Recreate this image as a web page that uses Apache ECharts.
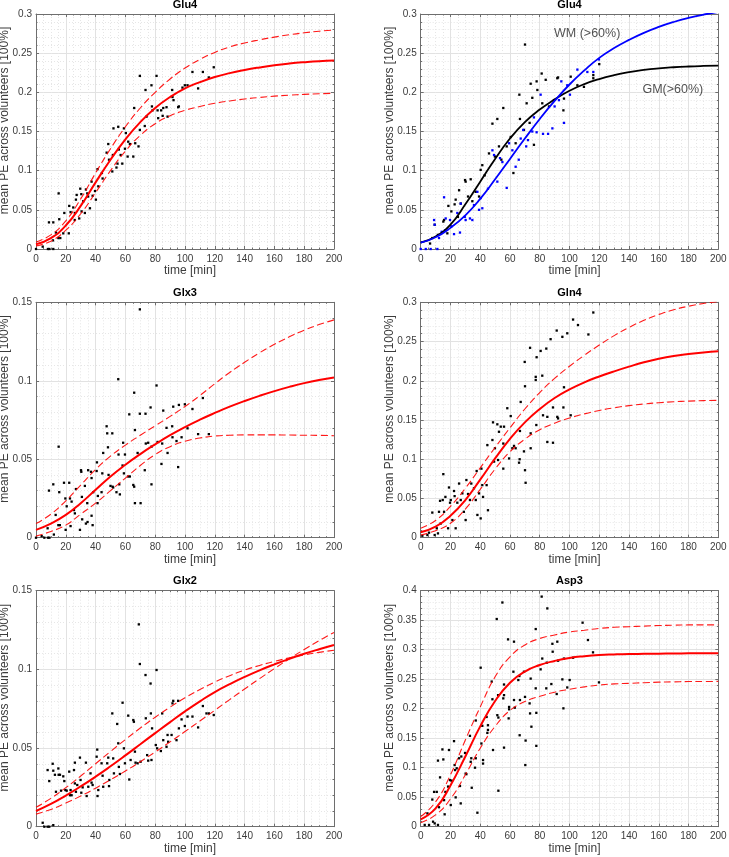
<!DOCTYPE html>
<html><head><meta charset="utf-8">
<script src="https://cdn.jsdelivr.net/npm/echarts@6/dist/echarts.min.js"></script>
<style>html,body{margin:0;padding:0;background:#fff}#c{width:729px;height:857px}</style>
</head><body><div id="c"></div>
<script>
// ---------------- DATA ----------------
const fitTime = [0,10,20,30,40,50,60,70,80,90,100,110,120,130,140,150,160,170,180,190,200];

// Panel 1: Glu4
const glu4Fit   = [0.006,0.014,0.030,0.055,0.085,0.114,0.140,0.162,0.180,0.194,0.205,0.213,0.2195,0.2245,0.2285,0.2318,0.2346,0.2368,0.2385,0.2398,0.2405];
const glu4Upper = [0.009,0.018,0.036,0.064,0.097,0.128,0.156,0.180,0.200,0.217,0.231,0.242,0.251,0.258,0.263,0.267,0.2705,0.2735,0.276,0.278,0.2795];
const glu4Lower = [0.004,0.010,0.024,0.045,0.072,0.100,0.125,0.145,0.160,0.170,0.177,0.182,0.186,0.189,0.1915,0.1935,0.1951,0.1964,0.1974,0.1982,0.1988];
const glu4Pts = [[0,0],[4.5,0.003],[8,0],[9,0],[11.6,0],[8.7,0.034],[11.6,0.034],[11.4,0.011],[13.4,0.021],[15,0.014],[15.2,0.071],[15.6,0.038],[16.3,0.014],[18.3,0.02],[19,0.046],[22,0.02],[22.3,0.055],[23.2,0.047],[25,0.053],[26,0.037],[26.1,0.046],[26.8,0.063],[27.3,0.069],[29,0.039],[29.7,0.077],[30.4,0.07],[30.6,0.048],[31.7,0.061],[32.8,0.046],[33.5,0.076],[34.4,0.071],[35,0.067],[36.2,0.052],[37.3,0.086],[38,0.068],[39.6,0.074],[40.2,0.063],[41.3,0.102],[41.8,0.08],[44.2,0.097],[44.7,0.09],[47.4,0.123],[48.5,0.134],[49,0.114],[51.2,0.099],[51.6,0.12],[52,0.154],[54,0.104],[54.7,0.109],[55.2,0.156],[55.6,0.127],[56.8,0.12],[57.9,0.109],[59,0.154],[59.7,0.128],[60.3,0.148],[61.5,0.118],[61.9,0.137],[63,0.134],[65.3,0.118],[65.9,0.18],[66.6,0.135],[68.8,0.131],[69.7,0.221],[69.7,0.152],[73,0.157],[73.5,0.203],[74.2,0.169],[77.5,0.209],[77.8,0.182],[78.2,0.177],[80.9,0.221],[81.6,0.177],[82,0.167],[84,0.177],[85,0.17],[85.4,0.18],[87.6,0.181],[88.3,0.169],[91.4,0.203],[91.6,0.194],[92.3,0.19],[95.4,0.181],[95.9,0.182],[98.3,0.206],[99.9,0.209],[101.7,0.209],[105,0.226],[108.8,0.205],[112,0.226],[116,0.219],[119.3,0.232]];

// Panel 2: Glu4 GM / WM
const gmFit = [0.008,0.016,0.031,0.057,0.086,0.115,0.141,0.162,0.178,0.191,0.202,0.2105,0.217,0.222,0.2258,0.2286,0.2306,0.232,0.233,0.2337,0.2342];
const wmFit = [0.008,0.015,0.027,0.043,0.064,0.089,0.115,0.141,0.166,0.189,0.210,0.228,0.244,0.2565,0.267,0.276,0.2835,0.2898,0.295,0.2992,0.3026];
const gmPts = [[6.3,0.007],[7.8,0.014],[9.4,0.031],[11.6,0.018],[15.2,0.035],[15.7,0.037],[17.9,0.02],[18.6,0.055],[20.6,0.048],[22.8,0.057],[23.5,0.063],[25,0.041],[25.8,0.075],[26.9,0.058],[29.8,0.088],[30.2,0.086],[31.8,0.067],[33.6,0.089],[34.7,0.061],[37,0.073],[39.2,0.067],[40.3,0.101],[41.4,0.107],[43,0.094],[45.9,0.122],[48.2,0.16],[49.9,0.118],[51.5,0.166],[52.6,0.131],[54.2,0.114],[55.5,0.18],[57.8,0.131],[60.5,0.143],[62.3,0.097],[63.8,0.135],[66.3,0.197],[66.7,0.166],[69.4,0.152],[70.1,0.261],[71.2,0.186],[73.2,0.161],[73.9,0.211],[75,0.193],[76.1,0.133],[77.9,0.214],[78.4,0.203],[81.3,0.224],[81.7,0.186],[84,0.216],[86.2,0.182],[91.8,0.218],[92.3,0.219],[95.9,0.177],[96.3,0.192],[100.8,0.22],[105.3,0.209],[109.7,0.207],[116,0.222],[116,0.218],[120,0.236]];
const wmPts = [[0,0],[3.4,0],[6.7,0],[9,0.037],[9.4,0.031],[11.2,0],[12.3,0.014],[14.1,0.022],[15.7,0.066],[16.3,0.024],[16.8,0.039],[19.7,0.037],[20.6,0.029],[22.4,0.019],[24.6,0.046],[26.4,0.021],[26.9,0.058],[29.6,0.041],[30.2,0.037],[33.1,0.039],[34.7,0.037],[35.8,0.056],[38.1,0.073],[39.2,0.05],[40.3,0.065],[41.4,0.052],[45.2,0.077],[48.2,0.126],[49.3,0.12],[51.5,0.086],[53.3,0.116],[54.9,0.111],[57.8,0.078],[59.4,0.135],[61.6,0.126],[63.8,0.105],[65.9,0.114],[67.2,0.141],[68.9,0.152],[70.9,0.131],[72.1,0.139],[75,0.15],[76.1,0.168],[77.9,0.149],[80.6,0.197],[82.2,0.147],[85.6,0.147],[88.5,0.154],[90,0.182],[92.9,0.19],[94.5,0.214],[96.3,0.161],[98.5,0.209],[100.3,0.197],[105.3,0.229],[112,0.226],[116,0.226],[119.8,0.242]];
const tissueLabels = [['WM (>60%)',89.6,0.275],['GM(>60%)',149,0.203]];

// Panel 3: Glx3
const glx3Fit   = [0.005,0.009,0.0145,0.022,0.0305,0.039,0.0465,0.0533,0.0595,0.0653,0.0705,0.0752,0.0795,0.0835,0.0871,0.0904,0.0934,0.0961,0.0985,0.1005,0.1021];
const glx3Upper = [0.009,0.015,0.0235,0.0335,0.0435,0.052,0.059,0.0653,0.0713,0.0773,0.0836,0.0906,0.0981,0.1053,0.1118,0.1178,0.1232,0.128,0.1322,0.1358,0.1388];
const glx3Lower = [0.001,0.004,0.008,0.015,0.022,0.030,0.038,0.046,0.053,0.058,0.0615,0.0635,0.0648,0.0653,0.0655,0.0655,0.0655,0.0654,0.0653,0.0652,0.065];
const glx3Pts = [[0,0],[3.8,0.001],[5.6,0],[8,0],[9,0],[7.8,0.006],[8.7,0.03],[11.6,0.034],[12,0.002],[13.2,0.0145],[15,0.008],[15.2,0.058],[15.6,0.029],[16,0.008],[18.8,0.035],[19.7,0.025],[19.9,0.005],[20.6,0.02],[22.3,0.035],[22.8,0.025],[23.2,0.0074],[23.9,0.023],[25.5,0.0176],[26.1,0.0155],[26.8,0.031],[29.5,0.005],[30.2,0.043],[30.4,0.042],[30.8,0.026],[31,0.0117],[32.8,0.033],[33.5,0.009],[34.4,0.022],[34.6,0.01],[35,0.043],[36.9,0.042],[37.3,0.038],[37.3,0.014],[38,0.008],[38.4,0.029],[40.7,0.0425],[40.9,0.048],[41.3,0.022],[41.5,0.0266],[44,0.029],[44.5,0.041],[45.1,0.054],[47.4,0.071],[47.8,0.0665],[48.3,0.0576],[48.7,0.04],[50,0.033],[51.2,0.0665],[51.4,0.0325],[51.8,0.032],[54,0.029],[55.2,0.101],[55.4,0.053],[55.9,0.034],[56.3,0.0276],[58.1,0.046],[58.5,0.0605],[59,0.041],[59.7,0.053],[61.9,0.039],[62.6,0.0786],[63,0.039],[65.3,0.0336],[65.9,0.0325],[65.9,0.0924],[66.4,0.0686],[66.4,0.022],[68.2,0.054],[69.7,0.079],[69.7,0.1455],[70.2,0.022],[73,0.043],[73.5,0.079],[73.7,0.06],[75.3,0.0605],[76.9,0.083],[77.5,0.058],[77.5,0.034],[80.9,0.097],[81.6,0.061],[84.2,0.047],[84.7,0.06],[85.4,0.081],[87.6,0.07],[88.3,0.054],[91.4,0.071],[91.6,0.064],[92.1,0.0835],[94.3,0.0616],[95.4,0.045],[95.9,0.0846],[97.7,0.064],[99.9,0.085],[101.7,0.0697],[105,0.082],[108.8,0.066],[112,0.089],[116,0.066]];

// Panel 4: Gln4
const gln4Fit   = [0.007,0.014,0.028,0.048,0.074,0.101,0.126,0.147,0.164,0.178,0.189,0.198,0.2055,0.212,0.218,0.2235,0.228,0.2315,0.234,0.236,0.2375];
const gln4Upper = [0.012,0.022,0.040,0.063,0.089,0.115,0.140,0.164,0.185,0.203,0.2185,0.2325,0.2455,0.2575,0.268,0.277,0.2845,0.2905,0.295,0.2985,0.301];
const gln4Lower = [0.0034,0.009,0.0185,0.0365,0.0615,0.0875,0.1095,0.1255,0.1375,0.146,0.1525,0.1578,0.1621,0.1656,0.1683,0.1704,0.172,0.1732,0.1741,0.1747,0.1751];
const gln4Pts = [[1.1,0.0025],[4.5,0.0034],[5.6,0.0064],[7.8,0.032],[9.4,0.0034],[10.8,0.012],[11.6,0.0055],[12.3,0.033],[13,0.047],[13.4,0.018],[14.8,0.048],[15.2,0.081],[15.7,0.033],[16.6,0.052],[18.4,0.012],[19,0.064],[19.7,0.0446],[20.2,0.048],[21.3,0.0225],[22.4,0.0595],[22.8,0.053],[23.5,0.012],[24.6,0.0446],[25.8,0.069],[26.9,0.048],[28,0.0565],[29,0.033],[30.2,0.0225],[30.7,0.0735],[31.8,0.0557],[33.1,0.048],[34,0.069],[35.8,0.063],[37,0.048],[37.6,0.085],[38.1,0.029],[39.2,0.0565],[40.3,0.0246],[40.8,0.088],[41.4,0.067],[41.9,0.052],[44.3,0.067],[44.8,0.118],[45.2,0.035],[48.2,0.1245],[48.6,0.147],[49.3,0.097],[49.9,0.114],[51.5,0.1445],[52,0.099],[52.6,0.135],[53.8,0.1415],[55.5,0.12],[55.5,0.088],[56,0.1415],[58.2,0.165],[59.4,0.101],[60.5,0.155],[61.6,0.114],[62.7,0.117],[63.8,0.114],[66.1,0.0956],[66.5,0.1],[66.7,0.136],[67.2,0.173],[69.4,0.11],[69.9,0.224],[70.1,0.193],[70.5,0.07],[70.1,0.086],[73.9,0.133],[73.9,0.114],[73.5,0.242],[77.3,0.205],[77.3,0.201],[77.7,0.1436],[77.9,0.23],[80.6,0.238],[81.7,0.2065],[82.2,0.156],[84.4,0.241],[85.1,0.154],[85.1,0.122],[87.3,0.253],[88.9,0.166],[88.9,0.121],[91.4,0.264],[91.8,0.154],[92.3,0.152],[95.2,0.256],[95.9,0.166],[96.3,0.1917],[98.5,0.2605],[100.8,0.156],[102.4,0.278],[105.7,0.271],[112.7,0.259],[116,0.287]];

// Panel 5: Glx2
const glx2Fit    = [0.010,0.0145,0.0198,0.0256,0.0318,0.0384,0.0453,0.0524,0.0595,0.0665,0.0733,0.0797,0.0856,0.0906,0.0952,0.0994,0.1032,0.1067,0.1099,0.1128,0.1155];
const glx2BoundA = [0.0123,0.018,0.0248,0.0322,0.040,0.0478,0.0554,0.0627,0.0696,0.076,0.0819,0.0872,0.0919,0.096,0.0995,0.1025,0.1051,0.1073,0.1092,0.1108,0.1122];
const glx2BoundB = [0.008,0.011,0.015,0.0195,0.0245,0.0298,0.0354,0.0413,0.0475,0.0539,0.0605,0.0672,0.074,0.0808,0.0875,0.0941,0.1005,0.1067,0.1126,0.1182,0.1235];
const glx2Pts = [[4.5,0.0025],[5.6,0],[7.8,0],[8.9,0],[11.6,0.001],[7.8,0.036],[8.9,0.029],[11.2,0.04],[11.6,0.0356],[12.7,0.033],[13.4,0.0222],[15,0.037],[15.2,0.033],[16.1,0.033],[16.8,0.0229],[18.3,0.032],[19,0.029],[19.7,0.0233],[20.6,0.0229],[22.3,0.035],[22.8,0.02],[23.2,0.0233],[23.9,0.02],[25.5,0.036],[26.1,0.0407],[26.1,0.0275],[26.8,0.0222],[27.7,0.0265],[29.5,0.0439],[29.9,0.0297],[30.4,0.0216],[31.3,0.025],[33.5,0.0407],[34,0.0195],[35.1,0.0254],[36.6,0.0339],[37.3,0.028],[38,0.0265],[40.7,0.0445],[41.1,0.049],[41.3,0.0195],[41.8,0.0233],[44,0.0403],[44.7,0.0324],[45.1,0.0254],[47.8,0.0403],[48.5,0.0439],[49,0.0258],[49.2,0.0297],[51.2,0.072],[51.8,0.0434],[52.3,0.0339],[54.5,0.0653],[55.2,0.053],[55.6,0.038],[56.3,0.0335],[58.1,0.0788],[59,0.0498],[59.7,0.0403],[61.9,0.0706],[62.6,0.03],[63.5,0.0424],[65.3,0.0678],[65.7,0.0667],[66.4,0.0477],[66.8,0.0407],[68.2,0.0403],[69,0.1286],[69.7,0.1034],[70.2,0.0413],[73.5,0.0964],[73.7,0.0689],[74.6,0.0455],[75.3,0.042],[76.9,0.091],[77.1,0.072],[77.5,0.0424],[77.9,0.0625],[80.4,0.0519],[80.9,0.0996],[81.3,0.0498],[83.8,0.0481],[84.7,0.072],[85.4,0.055],[87.6,0.0508],[88.3,0.0583],[88.7,0.054],[91,0.0583],[91.6,0.0784],[92.1,0.08],[94.3,0.055],[95.4,0.08],[95.9,0.0625],[97.7,0.0682],[99.9,0.064],[101.7,0.07],[105,0.07],[108.8,0.0631],[112,0.0767],[114.4,0.072],[116,0.072],[119.3,0.071]];

// Panel 6: Asp3
const asp3Fit   = [0.0124,0.031,0.070,0.119,0.170,0.213,0.244,0.263,0.274,0.281,0.286,0.289,0.291,0.292,0.2927,0.293,0.2933,0.2936,0.2938,0.294,0.294];
const asp3Upper = [0.017,0.042,0.088,0.147,0.203,0.254,0.288,0.308,0.319,0.325,0.330,0.333,0.336,0.338,0.339,0.340,0.341,0.3415,0.342,0.342,0.342];
const asp3Lower = [0.0068,0.020,0.047,0.088,0.133,0.170,0.197,0.212,0.221,0.228,0.233,0.237,0.240,0.242,0.243,0.244,0.245,0.2455,0.246,0.246,0.2463];
const asp3Pts = [[2.7,0.003],[4.5,0.0226],[5.6,0.003],[7.8,0.046],[8.3,0.0085],[9,0.059],[9.4,0.0056],[10.8,0.059],[11.6,0.003],[11.6,0.112],[12.3,0.033],[13,0.0836],[14.6,0.131],[15.2,0.114],[15.7,0.045],[16.1,0.021],[16.6,0.059],[18.4,0.068],[19,0.13],[19.7,0.079],[20.2,0.0367],[20.8,0.078],[22.4,0.145],[22.8,0.1045],[23.1,0.096],[23.5,0.0497],[24.2,0.099],[25.8,0.116],[26.4,0.069],[26.9,0.0395],[27.3,0.119],[29.8,0.125],[30.2,0.09],[30.7,0.089],[33.1,0.154],[33.6,0.11],[34,0.116],[34.3,0.066],[36.5,0.1],[37,0.116],[38.1,0.0237],[37,0.18],[40.3,0.2695],[40.8,0.141],[41.4,0.171],[41.9,0.113],[41.9,0.107],[44.3,0.186],[44.8,0.159],[45.2,0.172],[45.2,0.164],[47.7,0.246],[48.2,0.216],[48.6,0.13],[51.1,0.352],[51.5,0.189],[52,0.223],[52.2,0.185],[52.2,0.061],[54.9,0.38],[55.5,0.2175],[56,0.241],[56,0.223],[56,0.134],[58.7,0.3175],[59.1,0.1836],[59.4,0.203],[59.4,0.199],[62.3,0.2627],[62.7,0.3136],[62.7,0.2147],[63.2,0.2017],[65.6,0.2486],[66.3,0.2554],[66.5,0.155],[66.7,0.2147],[69.4,0.2627],[70.1,0.22],[70.3,0.1045],[70.5,0.146],[73.2,0.209],[73.5,0.192],[73.9,0.251],[74.4,0.1695],[77.3,0.335],[77.3,0.2345],[77.7,0.193],[77.7,0.137],[80.6,0.2667],[81.3,0.39],[81.7,0.285],[84.4,0.2345],[84.7,0.278],[85.1,0.37],[87.8,0.2418],[88.5,0.31],[88.7,0.2966],[91.4,0.2249],[91.8,0.3136],[92.3,0.2814],[95.2,0.2497],[95.9,0.2006],[96.3,0.285],[98.5,0.236],[100.1,0.2486],[102.4,0.2864],[108.8,0.3458],[112.4,0.3164],[115.8,0.2955],[119.8,0.2446]];

// ---------------- STYLE / LAYOUT ----------------
const FONT = "'Liberation Sans', Arial, sans-serif";
const AX = '#6e6e6e', TXT = '#3c3c3c', GRIDC = '#e2e2e2', MINORC = '#e6e6e6';
const RED = '#ff0000', BLUE = '#0000ff', BLACK = '#000000';
const cols = [{left:36, width:298}, {left:420.7, width:297.6}];
const rows = [{top:14, height:235}, {top:302.3, height:235.4}, {top:590.7, height:236}];
const panels = [
  {title:'Glu4', yMax:0.3, col:0, row:0},
  {title:'Glu4', yMax:0.3, col:1, row:0},
  {title:'Glx3', yMax:0.15, col:0, row:1},
  {title:'Gln4', yMax:0.3, col:1, row:1},
  {title:'Glx2', yMax:0.15, col:0, row:2},
  {title:'Asp3', yMax:0.4, col:1, row:2}
];

const grids = [], xAxes = [], yAxes = [], series = [];
const zip = (xs, ys) => xs.map((x, i) => [x, ys[i]]);

panels.forEach((p, i) => {
  grids.push({left: cols[p.col].left, width: cols[p.col].width, top: rows[p.row].top, height: rows[p.row].height, show:false, outerBoundsMode:'none', containLabel:false});
  const tick = {show:true, inside:true, length:3, lineStyle:{color:AX, width:1}};
  const minorTick = {show:true, length:1.5, lineStyle:{color:AX, width:1}};
  const axLine = {show:true, onZero:false, lineStyle:{color:AX, width:1}};
  const xBase = {type:'value', gridIndex:i, min:0, max:200, interval:20, axisLine:axLine, axisTick:tick, minorTick:{...minorTick, splitNumber:4}, nameMoveOverlap:false};
  xAxes.push({...xBase, position:'bottom',
    axisLabel:{show:true, color:TXT, fontFamily:FONT, fontSize:10, margin:5},
    splitLine:{show:true, lineStyle:{color:GRIDC, width:1}},
    minorSplitLine:{show:true, lineStyle:{color:MINORC, width:1, type:[1,2]}},
    name:'time [min]', nameLocation:'middle', nameGap:16,
    nameTextStyle:{color:TXT, fontFamily:FONT, fontSize:12, padding:[0,0,0,10]}});
  xAxes.push({...xBase, position:'top', axisLabel:{show:false}, splitLine:{show:false}, minorSplitLine:{show:false},
    name:p.title, nameLocation:'middle', nameGap:4,
    nameTextStyle:{color:'#000', fontFamily:FONT, fontSize:11, fontWeight:'bold'}});
  const yBase = {type:'value', gridIndex:i, min:0, max:p.yMax, interval:0.05, axisLine:axLine, axisTick:tick, minorTick:{...minorTick, splitNumber:5}, nameMoveOverlap:false};
  yAxes.push({...yBase, position:'left',
    axisLabel:{show:true, color:TXT, fontFamily:FONT, fontSize:10, margin:4},
    splitLine:{show:true, lineStyle:{color:GRIDC, width:1}},
    minorSplitLine:{show:true, lineStyle:{color:MINORC, width:1, type:[1,2]}},
    name:'mean PE across volunteers [100%]', nameLocation:'middle', nameGap:25,
    nameTextStyle:{color:TXT, fontFamily:FONT, fontSize:12, padding:[0,0,0,22]}});
  yAxes.push({...yBase, position:'right', axisLabel:{show:false}, splitLine:{show:false}, minorSplitLine:{show:false}});
});

function scatter(i, data, color) {
  return {type:'scatter', xAxisIndex:2*i, yAxisIndex:2*i, data, symbol:'rect', symbolSize:2.3,
    itemStyle:{color, opacity:1}, silent:true, z:2};
}
function curve(i, ys, color, width, dashed) {
  return {type:'line', xAxisIndex:2*i, yAxisIndex:2*i, data:zip(fitTime, ys), smooth:true,
    showSymbol:false, symbol:'none', silent:true, clip:true, z:dashed ? 3 : 4,
    lineStyle:{color, width, type: dashed ? [7,3.5] : 'solid', opacity: dashed ? 0.9 : 1}};
}

// Panel 1
series.push(scatter(0, glu4Pts, BLACK), curve(0, glu4Fit, RED, 2), curve(0, glu4Upper, RED, 1.1, true), curve(0, glu4Lower, RED, 1.1, true));
// Panel 2
series.push(scatter(1, gmPts, BLACK), scatter(1, wmPts, BLUE), curve(1, gmFit, BLACK, 1.8), curve(1, wmFit, BLUE, 1.8));
series.push({type:'scatter', xAxisIndex:2, yAxisIndex:2, symbolSize:0, silent:true, z:5,
  data: tissueLabels.map(t => ({value:[t[1], t[2]], name:t[0]})),
  label:{show:true, position:'right', distance:0, formatter:'{b}', color:'#262626', fontFamily:FONT, fontSize:12.5}});
// Panel 3
series.push(scatter(2, glx3Pts, BLACK), curve(2, glx3Fit, RED, 2), curve(2, glx3Upper, RED, 1.1, true), curve(2, glx3Lower, RED, 1.1, true));
// Panel 4
series.push(scatter(3, gln4Pts, BLACK), curve(3, gln4Fit, RED, 2), curve(3, gln4Upper, RED, 1.1, true), curve(3, gln4Lower, RED, 1.1, true));
// Panel 5
series.push(scatter(4, glx2Pts, BLACK), curve(4, glx2Fit, RED, 2), curve(4, glx2BoundA, RED, 1.1, true), curve(4, glx2BoundB, RED, 1.1, true));
// Panel 6
series.push(scatter(5, asp3Pts, BLACK), curve(5, asp3Fit, RED, 2), curve(5, asp3Upper, RED, 1.1, true), curve(5, asp3Lower, RED, 1.1, true));

const chart = echarts.init(document.getElementById('c'), null, {renderer:'canvas'});
chart.setOption({animation:false, backgroundColor:'#ffffff', grid:grids, xAxis:xAxes, yAxis:yAxes, series});
</script>
</body></html>
